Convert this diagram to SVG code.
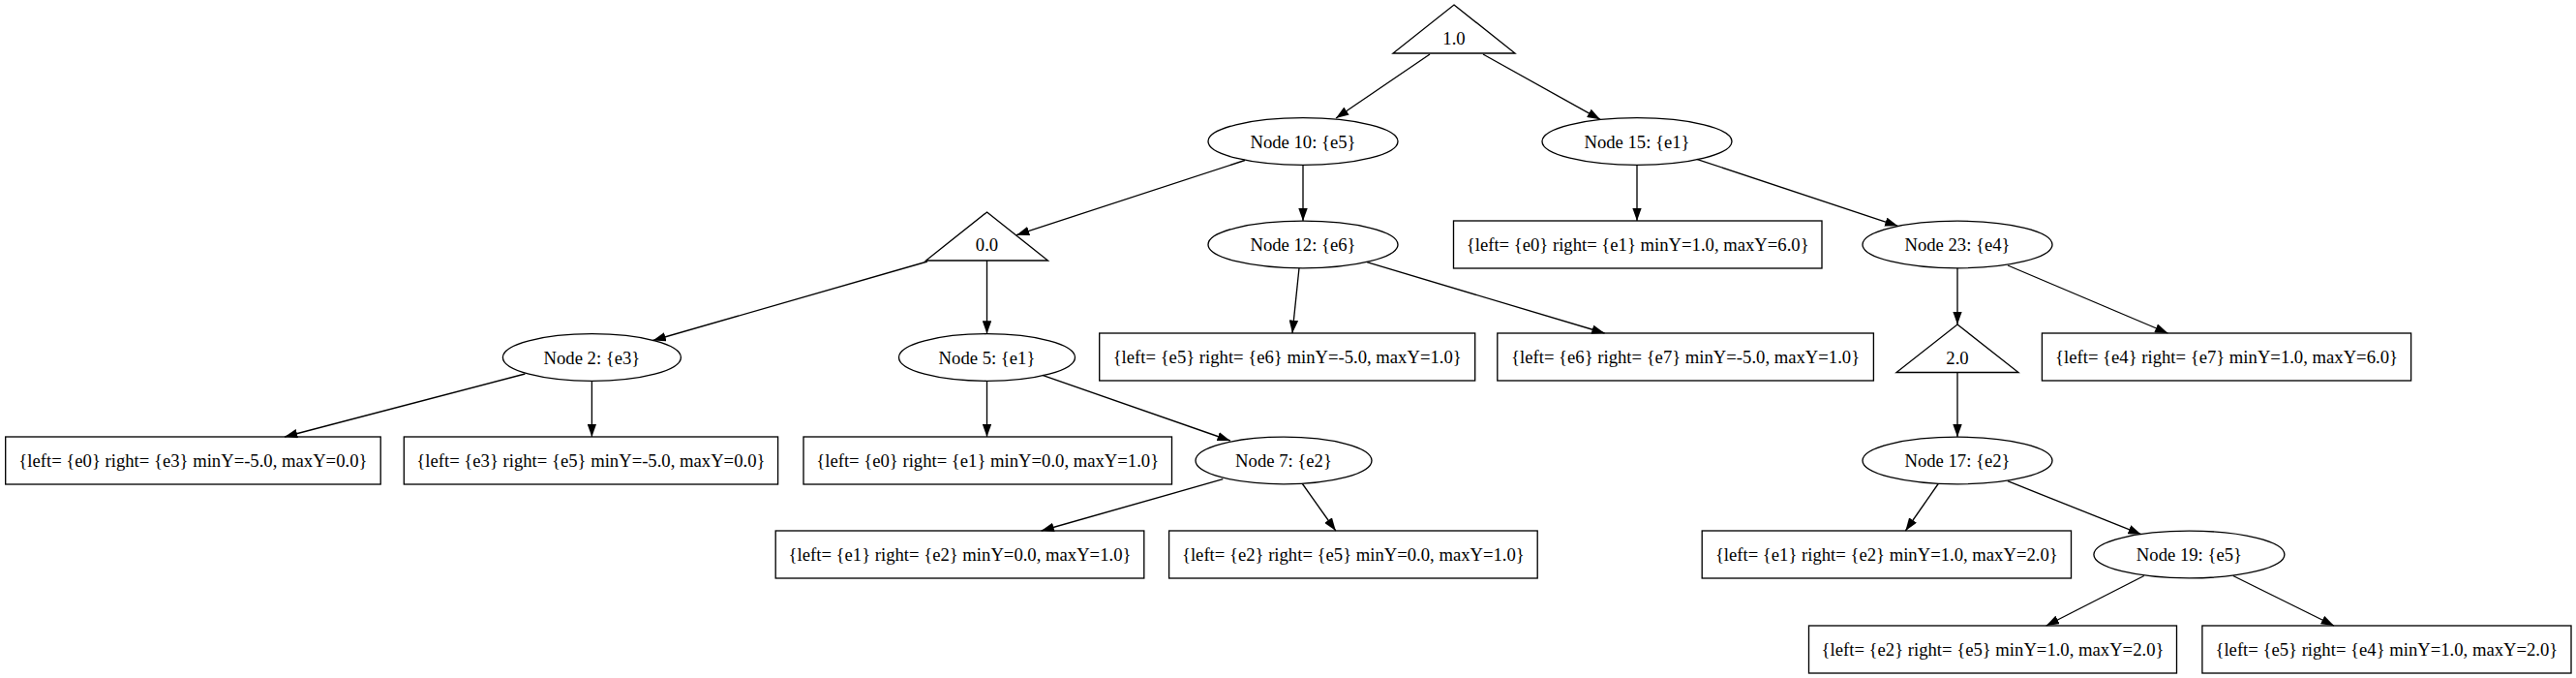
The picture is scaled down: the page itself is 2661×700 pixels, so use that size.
<svg xmlns="http://www.w3.org/2000/svg" width="2661" height="700" viewBox="0 0 2661 700">
<defs>
<marker id="ah" markerUnits="userSpaceOnUse" viewBox="0 0 14 10" refX="14" refY="5" markerWidth="13.5" markerHeight="9.5" orient="auto">
<path d="M0,0 L14,5 L0,10 z" fill="#000"/>
</marker>
<style>
.n{fill:none;stroke:#000;stroke-width:1.33}
.t{font-family:"Liberation Serif","Times New Roman",serif;font-size:18.67px;text-anchor:middle;fill:#000}
.e{stroke:#000;stroke-width:1.33;fill:none;marker-end:url(#ah)}
</style>
</defs>
<rect width="2661" height="700" fill="#fff"/>
<g id="edges">
<line class="e" x1="1477" y1="56" x2="1380" y2="122"/>
<line class="e" x1="1532" y1="56" x2="1653" y2="123.3"/>
<line class="e" x1="1286" y1="165.5" x2="1050" y2="242.7"/>
<line class="e" x1="1346" y1="170.3" x2="1346" y2="228.2"/>
<line class="e" x1="1691" y1="170.3" x2="1691" y2="228"/>
<line class="e" x1="1752.7" y1="164.3" x2="1960.5" y2="233.3"/>
<line class="e" x1="958" y1="270" x2="674.5" y2="351.5"/>
<line class="e" x1="1019.5" y1="269" x2="1019.5" y2="344.5"/>
<line class="e" x1="1342" y1="276.7" x2="1335" y2="344"/>
<line class="e" x1="1412" y1="270.7" x2="1657.6" y2="344"/>
<line class="e" x1="2022" y1="276.8" x2="2022" y2="335"/>
<line class="e" x1="2074" y1="274" x2="2239.4" y2="344"/>
<line class="e" x1="542.4" y1="386" x2="294" y2="451"/>
<line class="e" x1="611.4" y1="393.3" x2="611.4" y2="451"/>
<line class="e" x1="1019.5" y1="393.3" x2="1019.5" y2="451"/>
<line class="e" x1="1076.8" y1="387.3" x2="1270.8" y2="455"/>
<line class="e" x1="2022" y1="384.5" x2="2022" y2="451.2"/>
<line class="e" x1="1263.3" y1="494.7" x2="1075.6" y2="548"/>
<line class="e" x1="1345.4" y1="499.5" x2="1379.8" y2="548"/>
<line class="e" x1="2002.2" y1="499.5" x2="1968.4" y2="548"/>
<line class="e" x1="2073.9" y1="496.7" x2="2211.8" y2="551.7"/>
<line class="e" x1="2214.8" y1="594.5" x2="2113.7" y2="646"/>
<line class="e" x1="2306.8" y1="594.5" x2="2411" y2="646"/>
</g>
<g id="t1"><polygon class="n" points="1502,5 1565,55 1439,55"/><text class="t" x="1502" y="45.5">1.0</text></g>
<g id="n10"><ellipse class="n" cx="1346" cy="146" rx="98" ry="24.3"/><text class="t" x="1346" y="152.5">Node 10: {e5}</text></g>
<g id="n15"><ellipse class="n" cx="1691" cy="146" rx="98" ry="24.3"/><text class="t" x="1691" y="152.5">Node 15: {e1}</text></g>
<g id="t0"><polygon class="n" points="1019.5,219 1082.5,269 956.5,269"/><text class="t" x="1019.5" y="259">0.0</text></g>
<g id="n12"><ellipse class="n" cx="1346" cy="252.5" rx="98" ry="24.3"/><text class="t" x="1346" y="259">Node 12: {e6}</text></g>
<g id="b_e0e1_6"><rect class="n" x="1501.5" y="228" width="380.5" height="49"/><text class="t" x="1691.7" y="259">{left= {e0} right= {e1} minY=1.0, maxY=6.0}</text></g>
<g id="n23"><ellipse class="n" cx="2022" cy="252.5" rx="98" ry="24.3"/><text class="t" x="2022" y="259">Node 23: {e4}</text></g>
<g id="n2"><ellipse class="n" cx="611.4" cy="369" rx="92" ry="24.3"/><text class="t" x="611.4" y="375.5">Node 2: {e3}</text></g>
<g id="n5"><ellipse class="n" cx="1019.5" cy="369" rx="91" ry="24.3"/><text class="t" x="1019.5" y="375.5">Node 5: {e1}</text></g>
<g id="b_e5e6"><rect class="n" x="1135.7" y="344" width="388" height="49"/><text class="t" x="1329.7" y="375">{left= {e5} right= {e6} minY=-5.0, maxY=1.0}</text></g>
<g id="b_e6e7"><rect class="n" x="1546.8" y="344" width="388.6" height="49"/><text class="t" x="1741.1" y="375">{left= {e6} right= {e7} minY=-5.0, maxY=1.0}</text></g>
<g id="t2"><polygon class="n" points="2022,335 2085,384.5 1959,384.5"/><text class="t" x="2022" y="376">2.0</text></g>
<g id="b_e4e7"><rect class="n" x="2109.4" y="344" width="381.2" height="49"/><text class="t" x="2300" y="375">{left= {e4} right= {e7} minY=1.0, maxY=6.0}</text></g>
<g id="b_e0e3"><rect class="n" x="5.7" y="451" width="387.5" height="49"/><text class="t" x="199.4" y="482">{left= {e0} right= {e3} minY=-5.0, maxY=0.0}</text></g>
<g id="b_e3e5"><rect class="n" x="417.3" y="451" width="386.3" height="49"/><text class="t" x="610.4" y="482">{left= {e3} right= {e5} minY=-5.0, maxY=0.0}</text></g>
<g id="b_e0e1_0"><rect class="n" x="830" y="451" width="380.5" height="49"/><text class="t" x="1020.2" y="482">{left= {e0} right= {e1} minY=0.0, maxY=1.0}</text></g>
<g id="n7"><ellipse class="n" cx="1326" cy="475.5" rx="91" ry="24.3"/><text class="t" x="1326" y="482">Node 7: {e2}</text></g>
<g id="n17"><ellipse class="n" cx="2022" cy="475.5" rx="98" ry="24.3"/><text class="t" x="2022" y="482">Node 17: {e2}</text></g>
<g id="b_e1e2_0"><rect class="n" x="801.2" y="548" width="380.6" height="49"/><text class="t" x="991.5" y="579">{left= {e1} right= {e2} minY=0.0, maxY=1.0}</text></g>
<g id="b_e2e5_0"><rect class="n" x="1207.6" y="548" width="380.6" height="49"/><text class="t" x="1397.9" y="579">{left= {e2} right= {e5} minY=0.0, maxY=1.0}</text></g>
<g id="b_e1e2_1"><rect class="n" x="1758.2" y="548" width="381.3" height="49"/><text class="t" x="1948.8" y="579">{left= {e1} right= {e2} minY=1.0, maxY=2.0}</text></g>
<g id="n19"><ellipse class="n" cx="2261.4" cy="572.5" rx="98.5" ry="24.3"/><text class="t" x="2261.4" y="579">Node 19: {e5}</text></g>
<g id="b_e2e5_1"><rect class="n" x="1868.5" y="646" width="380" height="49"/><text class="t" x="2058.5" y="677">{left= {e2} right= {e5} minY=1.0, maxY=2.0}</text></g>
<g id="b_e5e4"><rect class="n" x="2274.9" y="646" width="381.1" height="49"/><text class="t" x="2465.4" y="677">{left= {e5} right= {e4} minY=1.0, maxY=2.0}</text></g>
</svg>
